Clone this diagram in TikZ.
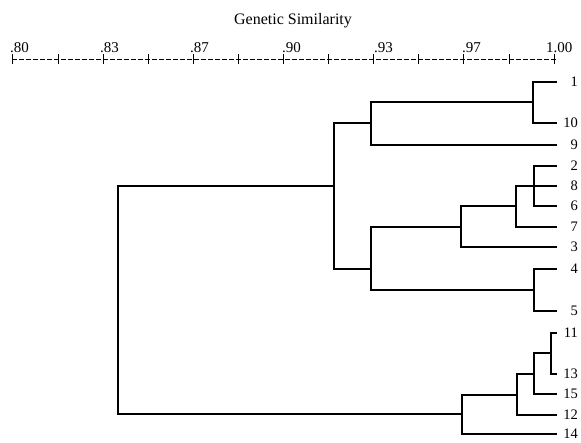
\documentclass[tikz,border=0pt]{standalone}
\usepackage{fontspec}
\setmainfont{Liberation Serif}
\begin{document}
\begin{tikzpicture}[x=1pt,y=-1pt,
  branch/.style={line width=2.2pt,line join=miter},
  rootbranch/.style={line width=1.7pt,line join=miter},
  leaflab/.style={anchor=east,inner sep=0pt,font=\fontsize{14.5}{14.5}\selectfont},
  ticklab/.style={anchor=base west,inner sep=0pt,font=\fontsize{15}{15}\selectfont},
  tickmark/.style={line width=0.6pt}]
\useasboundingbox (0,0) rectangle (581,442);
% title and axis
\node[anchor=base,inner sep=0pt,font=\fontsize{16}{16}\selectfont] (title) at (293,24) {Genetic Similarity};
\coordinate (ax0) at (12,59);
\coordinate (ax1) at (558,59);
\draw[line width=0.8pt,dash pattern=on 5pt off 2pt] (ax0) -- (ax1);
\foreach \i in {0,...,12}{
  \draw[tickmark] (12.7+45.1*\i,54) -- (12.7+45.1*\i,64);
}
\node[ticklab] (t80) at (10,52) {.80};
\node[ticklab] (t83) at (100,52) {.83};
\node[ticklab] (t87) at (190,52) {.87};
\node[ticklab] (t90) at (282,52) {.90};
\node[ticklab] (t93) at (374,52) {.93};
\node[ticklab] (t97) at (462,52) {.97};
\node[ticklab] (t100) at (546,52) {1.00};
% leaves
\foreach \n/\y in {1/82,10/123,9/145,2/166,8/186,6/206,7/227,3/247,4/269,5/311,11/333,13/374,15/394,12/415,14/434}{
  \coordinate (e\n) at (557,\y);
  \node[leaflab] (l\n) at (578,\y) {\n};
}
% junctions
\coordinate (A) at (533,102);
\coordinate (B) at (371,123);
\coordinate (C) at (534,186);
\coordinate (D) at (516,206);
\coordinate (E) at (461,227);
\coordinate (F) at (534,290);
\coordinate (G) at (371,269);
\coordinate (H) at (334,186);
\coordinate (I) at (551,353);
\coordinate (J) at (534,374);
\coordinate (K) at (517,395);
\coordinate (L) at (462,414);
\coordinate (R) at (118,300);
\draw[branch] (e1) -| (A) |- (e10);
\draw[branch] (e9) -| (B) |- (A);
\draw[branch] (e2) -| (C) |- (e6);
\draw[branch] (C) -- (e8);
\draw[branch] (C) -| (D) |- (e7);
\draw[branch] (D) -| (E) |- (e3);
\draw[branch] (e4) -| (F) |- (e5);
\draw[branch] (E) -| (G) |- (F);
\draw[branch] (B) -| (H) |- (G);
\draw[branch] (e11) -| (I) |- (e13);
\draw[branch] (I) -| (J) |- (e15);
\draw[branch] (J) -| (K) |- (e12);
\draw[branch] (K) -| (L) |- (e14);
\draw[rootbranch] (L) -| (R) |- (H);
\end{tikzpicture}
\end{document}
